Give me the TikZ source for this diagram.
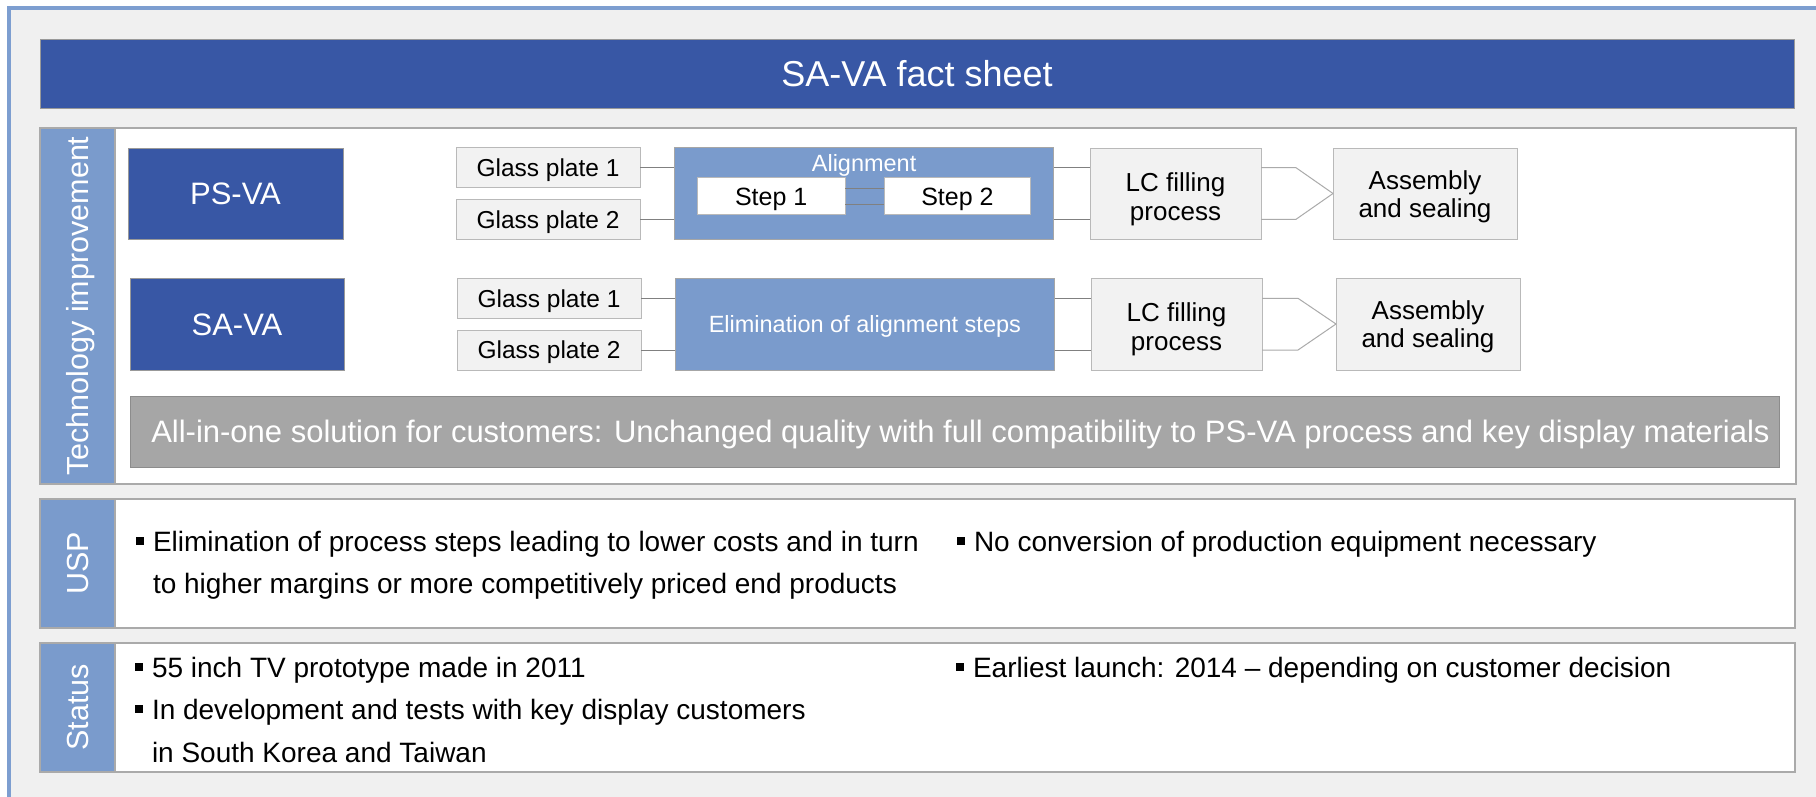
\documentclass[tikz,border=0pt]{standalone}
\usepackage{fontspec}
\setmainfont{Liberation Sans}
\definecolor{dblue}{RGB}{56,87,165}
\definecolor{lblue}{RGB}{122,155,204}
\definecolor{framec}{RGB}{125,158,208}
\definecolor{bgc}{RGB}{240,240,240}
\definecolor{boxf}{RGB}{242,242,242}
\definecolor{boxd}{RGB}{185,185,185}
\definecolor{secd}{RGB}{170,170,170}
\definecolor{barc}{RGB}{166,166,166}
\definecolor{linec}{RGB}{128,128,128}
\definecolor{linel}{RGB}{170,170,170}
\definecolor{alfill}{RGB}{122,155,204}
\newcommand\fsz[1]{\fontsize{#1}{#1}\selectfont}
\newcommand\sqb{\rule[6pt]{8pt}{8pt}\hspace{9pt}}
\begin{document}
\begin{tikzpicture}[x=1pt,y=-1pt,
  every node/.style={inner sep=0pt, outer sep=0pt},
  darkbox/.style={rectangle, fill=dblue, draw=gray!80, line width=1pt, text=white},
  secbody/.style={rectangle, fill=white, draw=secd, line width=1.2pt},
  seclabel/.style={rectangle, fill=lblue, draw=secd, line width=1.2pt, text=white, font=\fsz{30.5}, text height=21.8pt, text depth=0pt, rotate=90},
  pbox/.style={rectangle, fill=boxf, draw=boxd, line width=1pt, text=black},
  gtxt/.style={font=\fsz{24.5}, text height=17.5pt, text depth=0pt},
  steptxt/.style={font=\fsz{25}, text height=17.9pt, text depth=0pt},
  twoline/.style={font=\fontsize{26}{28.3}\selectfont, align=center, text depth=0pt},
  conn/.style={draw=linec, line width=1pt},
  connl/.style={draw=linel, line width=1pt},
  btxt/.style={anchor=base west, font=\fsz{28}, text=black}
]
\useasboundingbox (0,0) rectangle (1816,796);
\clip (0,0) rectangle (1816,796);
\fill[white] (0,0) rectangle (1816,796);
\draw[framec, line width=3.5pt, fill=bgc] (9,8) rectangle (1840,820);

% title
\node[darkbox, minimum width=1754, minimum height=69, font=\fsz{36}, text height=25.8pt, text depth=0pt] (title) at (917,73.5) {SA-VA fact sheet};

% sections
\node[secbody, minimum width=1681, minimum height=356] (techbody) at (955.5,306) {};
\node[seclabel, minimum width=356, minimum height=75] (techlab) at (77.5,306) {Technology improvement};
\node[secbody, minimum width=1680, minimum height=129] (uspbody) at (955,563.5) {};
\node[seclabel, minimum width=129, minimum height=75] (usplab) at (77.5,563.5) {USP};
\node[secbody, minimum width=1680, minimum height=129] (statbody) at (955,707.5) {};
\node[seclabel, minimum width=129, minimum height=75] (statlab) at (77.5,707.5) {Status};

% technology rows
\node[darkbox, minimum width=215, minimum height=91, font=\fsz{31}, text height=22.2pt, text depth=0pt] (psva) at (235.5,193.5) {PS-VA};
\node[darkbox, minimum width=214, minimum height=92, font=\fsz{31}, text height=22.2pt, text depth=0pt] (sava) at (237,324) {SA-VA};

% PS-VA process
\node[pbox, gtxt, minimum width=184, minimum height=40] (gp1a) at (548,167.7) {Glass plate 1};
\node[pbox, gtxt, minimum width=184, minimum height=40] (gp2a) at (548,219.3) {Glass plate 2};
\node[rectangle, fill=alfill, draw=gray!70, line width=1pt, minimum width=379.4, minimum height=91.6] (align) at (864.1,193.5) {};
\node[anchor=base, font=\fsz{23.5}, text=white] (altxt) at (864.1,171.7) {Alignment};
\node[rectangle, fill=white, draw=boxd, line width=1pt, steptxt, minimum width=148.3, minimum height=37.3] (step1) at (771.2,196.3) {Step 1};
\node[rectangle, fill=white, draw=boxd, line width=1pt, steptxt, minimum width=146.4, minimum height=37.3] (step2) at (957.4,196.3) {Step 2};
\node[pbox, twoline, text height=53.3pt, minimum width=171, minimum height=91] (lc1) at (1175.5,193.5) {\begin{tabular}[b]{@{}c@{}}LC filling\\process\end{tabular}};
\node[pbox, twoline, text height=48.5pt, minimum width=184, minimum height=91] (asm1) at (1425,193.5) {\begin{tabular}[b]{@{}c@{}}Assembly\\and sealing\end{tabular}};

\draw[conn] (gp1a.east) -- (gp1a.east -| align.west);
\draw[conn] (gp2a.east) -- (gp2a.east -| align.west);
\draw[conn] ([yshift=8pt]step1.east) -- ([yshift=8pt]step1.east -| step2.west);
\draw[conn] ([yshift=-7.7pt]step1.east) -- ([yshift=-7.7pt]step1.east -| step2.west);
\draw[conn] (align.east |- gp1a.east) -- (lc1.west |- gp1a.east);
\draw[conn] (align.east |- gp2a.east) -- (lc1.west |- gp2a.east);
\draw[connl] (lc1.east |- gp1a.east) -- ++(35,0) -- (asm1.west);
\draw[connl] (lc1.east |- gp2a.east) -- ++(35,0) -- (asm1.west);

% SA-VA process
\node[pbox, gtxt, minimum width=184, minimum height=40] (gp1b) at (549,298.3) {Glass plate 1};
\node[pbox, gtxt, minimum width=184, minimum height=40] (gp2b) at (549,350) {Glass plate 2};
\node[rectangle, fill=alfill, draw=gray!70, line width=1pt, minimum width=379.7, minimum height=91.7, font=\fsz{23.5}, text=white, text height=16.8pt, text depth=0pt] (elim) at (864.85,324.15) {Elimination of alignment steps};
\node[pbox, twoline, text height=52.3pt, minimum width=171, minimum height=92] (lc2) at (1176.5,324) {\begin{tabular}[b]{@{}c@{}}LC filling\\process\end{tabular}};
\node[pbox, twoline, text height=47.5pt, minimum width=184, minimum height=92] (asm2) at (1428,324) {\begin{tabular}[b]{@{}c@{}}Assembly\\and sealing\end{tabular}};

\draw[conn] (gp1b.east) -- (gp1b.east -| elim.west);
\draw[conn] (gp2b.east) -- (gp2b.east -| elim.west);
\draw[conn] (elim.east |- gp1b.east) -- (lc2.west |- gp1b.east);
\draw[conn] (elim.east |- gp2b.east) -- (lc2.west |- gp2b.east);
\draw[connl] (lc2.east |- gp1b.east) -- ++(36,0) -- (asm2.west);
\draw[connl] (lc2.east |- gp2b.east) -- ++(36,0) -- (asm2.west);

% gray bar
\node[rectangle, fill=barc, draw=gray!90, line width=1pt, minimum width=1649, minimum height=71, font=\fsz{31}, text=white, text height=22.2pt, text depth=0pt] (bar) at (954.5,431.5) {\hspace*{12pt}All-in-one solution for customers: Unchanged quality with full compatibility to PS-VA process and key display materials};

% USP text
\node[btxt] (usp1) at (136,551) {\sqb Elimination of process steps leading to lower costs and in turn};
\node[btxt] (usp1b) at (153,593) {to higher margins or more competitively priced end products};
\node[btxt] (usp2) at (957,551) {\sqb No conversion of production equipment necessary};

% Status text
\node[btxt] (st1) at (135,677) {\sqb 55 inch TV prototype made in 2011};
\node[btxt] (st2) at (135,719) {\sqb In development and tests with key display customers};
\node[btxt] (st2b) at (152,762) {in South Korea and Taiwan};
\node[btxt] (st3) at (956,677) {\sqb Earliest launch: 2014 – depending on customer decision};
\end{tikzpicture}
\end{document}
